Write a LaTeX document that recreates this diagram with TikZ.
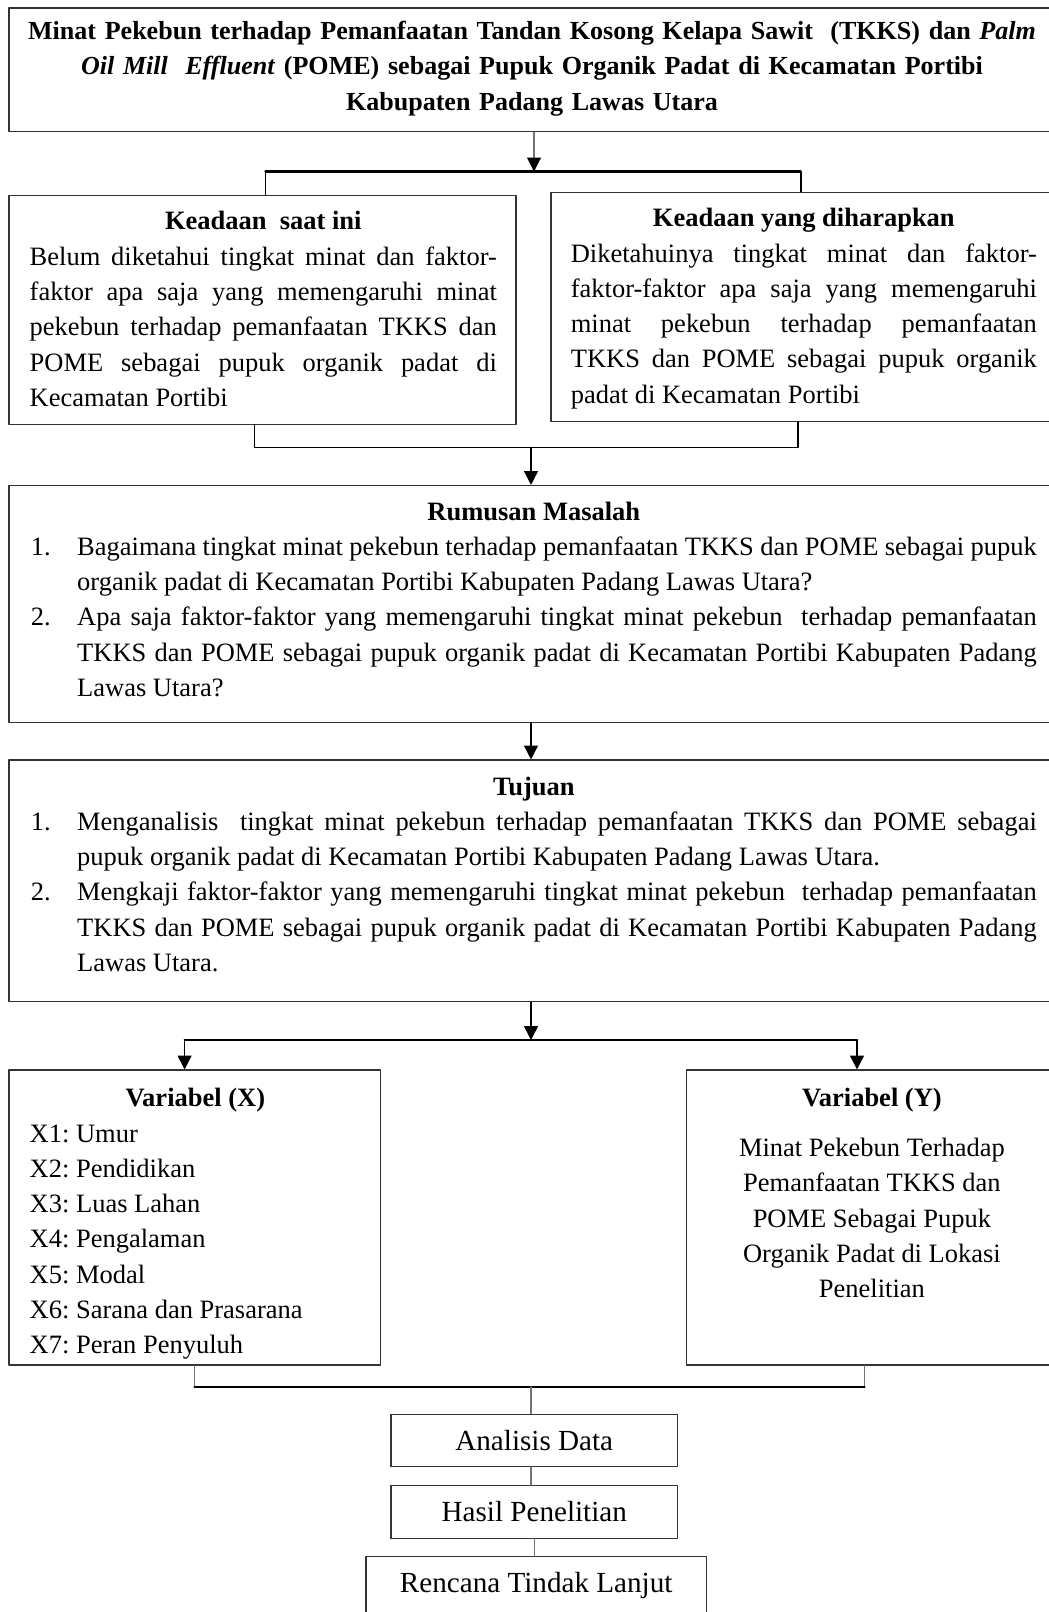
\documentclass[tikz,border=0pt]{standalone}
\usepackage{fontspec}
\setmainfont{Liberation Serif}
\usepackage{tikz}
\usetikzlibrary{arrows.meta,calc,positioning,fit}
\frenchspacing
\tolerance=10000
\hbadness=10000
\hyphenpenalty=10000
\exhyphenpenalty=10000
\newcommand{\butir}[2]{\par\hangindent=21pt\hangafter=1\noindent\makebox[21pt][l]{#1}#2\par}

\begin{document}
\begin{tikzpicture}[x=0.453pt,y=-0.453pt,line cap=round,line join=round,
		kotak/.style={draw=black!80,line width=0.5pt,inner sep=0pt},
		teks/.style={inner sep=0pt,align=justify,font=\fontsize{12}{16}\selectfont},
		bawah/.style={kotak,minimum height=23.7pt,font=\fontsize{13.2}{16}\selectfont},
		garis/.style={black,line width=0.7pt},
		bar/.style={black,line width=1pt},
		tebal/.style={black,line width=1.2pt},
		abu/.style={black!55,line width=0.5pt},
		panah/.style={garis,-{Triangle[length=6.3pt,width=6.3pt]}},
		panahabu/.style={abu,-{Triangle[length=6.3pt,width=6.3pt,color=black]}}]
		\path[use as bounding box,fill=white] (0,0) rectangle (1049,1612);

		\node[kotak,fit={(9,8) (1050,131.7)}] (judul) {};
		\node[teks,align=center,text width=470pt,font=\fontsize{11.8}{16}\selectfont\bfseries,anchor=base] (judulT) at (532,39.5)
			{Minat Pekebun terhadap Pemanfaatan Tandan Kosong Kelapa Sawit\ \ (TKKS) dan \textit{Palm}\\
			\textit{Oil Mill\ \ Effluent} (POME) sebagai Pupuk Organik Padat di Kecamatan Portibi\\
			Kabupaten Padang Lawas Utara};

		\node[kotak,fit={(9,195.5) (516,424.3)}] (kini) {};
		\node[teks,text width=211.6pt,anchor=base west] (kiniT) at (29.3,230)
			{{\centering\bfseries Keadaan\ \ saat ini\par}
			Belum diketahui tingkat minat dan faktor-\linebreak faktor apa saja yang memengaruhi minat\linebreak pekebun terhadap pemanfaatan TKKS dan\linebreak POME sebagai pupuk organik padat di\linebreak Kecamatan Portibi\par};

		\node[kotak,fit={(551,192.3) (1050,421.7)}] (harapan) {};
		\node[teks,text width=211.1pt,anchor=base west] (harapanT) at (570.4,226.7)
			{{\centering\bfseries Keadaan yang diharapkan\par}
			Diketahuinya tingkat minat dan faktor-\linebreak faktor-faktor apa saja yang memengaruhi\linebreak minat pekebun terhadap pemanfaatan\linebreak TKKS dan POME sebagai pupuk organik\linebreak padat di Kecamatan Portibi\par};

		\node[kotak,fit={(9,485.5) (1050,722.3)}] (rumusan) {};
		\node[teks,text width=455.7pt,anchor=base west] (rumusanT) at (30.4,520)
			{{\centering\bfseries Rumusan Masalah\par}
			\butir{1.}{Bagaimana tingkat minat pekebun terhadap pemanfaatan TKKS dan POME sebagai pupuk\linebreak organik padat di Kecamatan Portibi Kabupaten Padang Lawas Utara?}
			\butir{2.}{Apa saja faktor-faktor yang memengaruhi tingkat minat pekebun\ \ terhadap pemanfaatan\linebreak TKKS dan POME sebagai pupuk organik padat di Kecamatan Portibi Kabupaten Padang\linebreak Lawas Utara?}};

		\node[kotak,fit={(9,760) (1050,1001.7)}] (tujuan) {};
		\node[teks,text width=455.7pt,anchor=base west] (tujuanT) at (30.4,795)
			{{\centering\bfseries Tujuan\par}
			\butir{1.}{Menganalisis\ \ tingkat minat pekebun terhadap pemanfaatan TKKS dan POME sebagai\linebreak pupuk organik padat di Kecamatan Portibi Kabupaten Padang Lawas Utara.}
			\butir{2.}{Mengkaji faktor-faktor yang memengaruhi tingkat minat pekebun\ \ terhadap pemanfaatan\linebreak TKKS dan POME sebagai pupuk organik padat di Kecamatan Portibi Kabupaten Padang\linebreak Lawas Utara.}};

		\node[kotak,fit={(9,1070) (380.4,1365)}] (varx) {};
		\node[teks,text width=150pt,anchor=base west] (varxT) at (29.3,1106.7)
			{{\centering\bfseries Variabel (X)\par}
			X1: Umur\par X2: Pendidikan\par X3: Luas Lahan\par X4: Pengalaman\par X5: Modal\par X6: Sarana dan Prasarana\par X7: Peran Penyuluh\par};

		\node[kotak,fit={(686.5,1070) (1050,1365)}] (vary) {};
		\node[teks,text width=149.5pt,anchor=base west] (varyT) at (706.5,1106.7)
			{{\centering\bfseries Variabel (Y)\par}\vspace{6.6pt}
			{\centering Minat Pekebun Terhadap\par Pemanfaatan TKKS dan\par POME Sebagai Pupuk\par Organik Padat di Lokasi\par Penelitian\par}};

		\node[bawah,minimum width=129.8pt] (analisis) at (534.25,1440.2) {Analisis Data};
		\node[bawah,minimum width=129.8pt] (hasil) at (534.25,1512) {Hasil Penelitian};
		\node[bawah,minimum width=154.2pt,minimum height=26.3pt,anchor=north] (rencana) at (536.2,1556) {Rencana Tindak Lanjut};

		\coordinate (t1) at (534,171.5);
		\coordinate (t1a) at (265.4,171.5);
		\coordinate (t1b) at (800.8,171.5);
		\draw[panahabu] (judul.south -| t1) -- (t1);
		\draw[bar] (t1a) -- (t1b);
		\draw[garis] (t1a) -- (t1a |- kini.north);
		\draw[garis] (t1b) -- (t1b |- harapan.north);

		\coordinate (t2) at (531,447.5);
		\coordinate (t2a) at (254.6,447.5);
		\coordinate (t2b) at (798,447.5);
		\draw[garis] (t2a |- kini.south) -- (t2a) -- (t2b) -- (t2b |- harapan.south);
		\draw[panah] (t2) -- (t2 |- rumusan.north);
		\draw[panah] (rumusan.south -| t2) -- (tujuan.north -| t2);

		\coordinate (t3) at (531,1040);
		\coordinate (t3a) at (184.6,1040);
		\coordinate (t3b) at (857,1040);
		\draw[panah] (tujuan.south -| t3) -- (t3);
		\draw[bar] (t3a) -- (t3b);
		\draw[panah] (t3a) -- (t3a |- varx.north);
		\draw[panah] (t3b) -- (t3b |- vary.north);

		\coordinate (t4) at (531,1387);
		\coordinate (t4a) at (194.6,1387);
		\coordinate (t4b) at (864.5,1387);
		\draw[abu] (t4a |- varx.south) -- (t4a);
		\draw[abu] (t4b |- vary.south) -- (t4b);
		\draw[tebal] (t4a) -- (t4b);
		\draw[abu] (t4) -- (t4 |- analisis.north);
		\draw[abu] (analisis.south -| t4) -- (hasil.north -| t4);
		\draw[abu] (hasil.south) -- (hasil.south |- rencana.north);
\end{tikzpicture}
\end{document}
